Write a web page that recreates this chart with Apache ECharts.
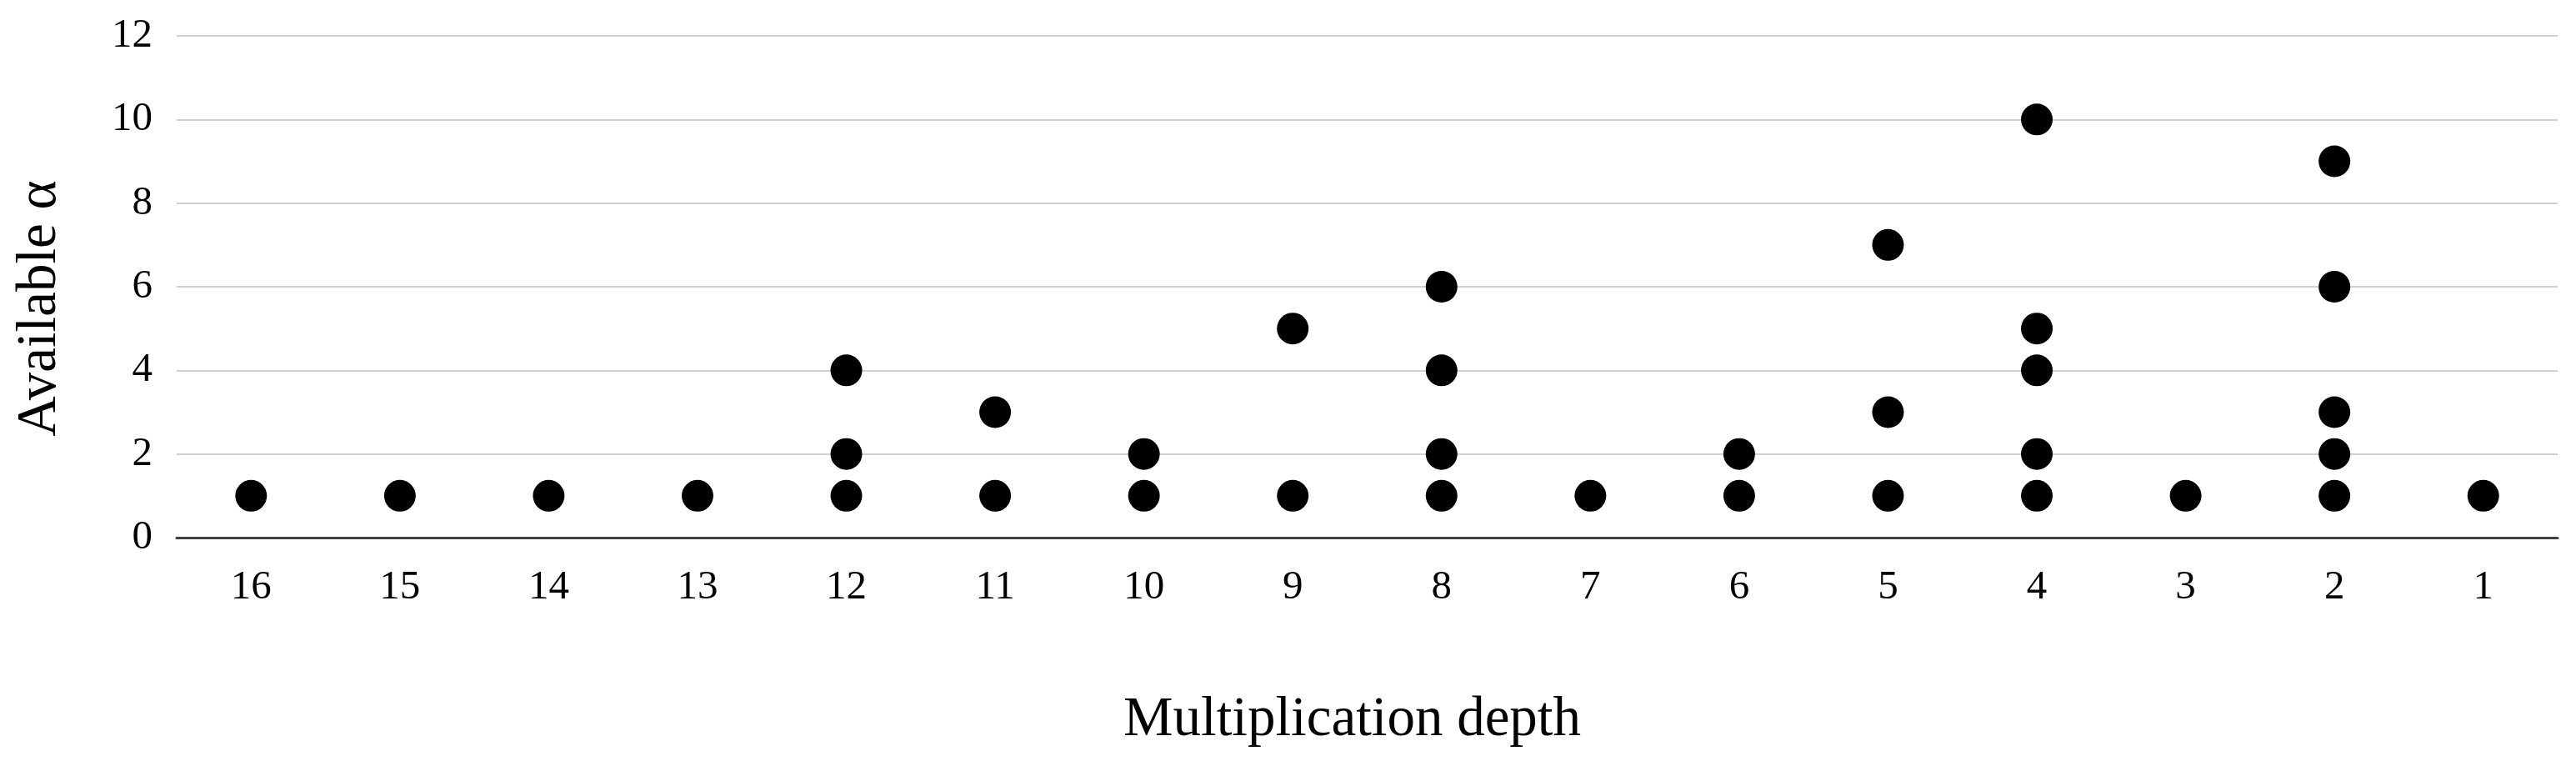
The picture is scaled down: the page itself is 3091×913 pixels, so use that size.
<!DOCTYPE html>
<html>
<head>
<meta charset="utf-8" />
<style>
  html, body { margin: 0; padding: 0; background: #ffffff; }
  #chart { width: 3091px; height: 913px; }
</style>
<script src="https://cdn.jsdelivr.net/npm/echarts@6/dist/echarts.min.js"></script>
</head>
<body>
<div id="chart"></div>
<script>
// Multiplication depth, left to right as in the figure.
const depths = ['16', '15', '14', '13', '12', '11', '10', '9', '8', '7', '6', '5', '4', '3', '2', '1'];

// Available alpha values at each depth (same order as depths).
const alphaAt16 = [1];
const alphaAt15 = [1];
const alphaAt14 = [1];
const alphaAt13 = [1];
const alphaAt12 = [1, 2, 4];
const alphaAt11 = [1, 3];
const alphaAt10 = [1, 2];
const alphaAt9 = [1, 5];
const alphaAt8 = [1, 2, 4, 6];
const alphaAt7 = [1];
const alphaAt6 = [1, 2];
const alphaAt5 = [1, 3, 7];
const alphaAt4 = [1, 2, 4, 5, 10];
const alphaAt3 = [1];
const alphaAt2 = [1, 2, 3, 6, 9];
const alphaAt1 = [1];

const alphaLists = [
  alphaAt16, alphaAt15, alphaAt14, alphaAt13, alphaAt12, alphaAt11, alphaAt10, alphaAt9,
  alphaAt8, alphaAt7, alphaAt6, alphaAt5, alphaAt4, alphaAt3, alphaAt2, alphaAt1
];

const yTicks = { min: 0, max: 12, interval: 2 };

// Flatten to [category, value] pairs for the scatter series.
const points = [];
depths.forEach((depth, i) => {
  alphaLists[i].forEach(value => points.push([depth, value]));
});

const fontFamily = '"Liberation Serif", "DejaVu Serif", serif';

const chart = echarts.init(document.getElementById('chart'), null, { renderer: 'canvas' });

chart.setOption({
  animation: false,
  backgroundColor: '#ffffff',
  grid: { left: 212, right: 22, top: 43, bottom: 268 },
  xAxis: {
    type: 'category',
    data: depths,
    boundaryGap: true,
    name: 'Multiplication depth',
    nameLocation: 'middle',
    nameGap: 186,
    // padding on the right nudges the title a little left of the plot centre, as in the original
    nameTextStyle: { fontFamily: fontFamily, fontSize: 67, color: '#000000', padding: [0, 36, 0, 0] },
    axisLine: { show: true, lineStyle: { color: '#404040', width: 3 } },
    axisTick: { show: false },
    axisLabel: { fontFamily: fontFamily, fontSize: 49, color: '#000000', margin: 36 },
    splitLine: { show: false }
  },
  yAxis: {
    type: 'value',
    min: yTicks.min,
    max: yTicks.max,
    interval: yTicks.interval,
    name: 'Available α',
    nameLocation: 'middle',
    nameGap: 130,
    // rotated text: right padding pushes it down below the plot centre
    nameTextStyle: { fontFamily: fontFamily, fontSize: 67, color: '#000000', padding: [0, 52, 0, 0] },
    axisLine: { show: false },
    axisTick: { show: false },
    axisLabel: { fontFamily: fontFamily, fontSize: 49, color: '#000000', margin: 29 },
    splitLine: { show: true, lineStyle: { color: '#d0d0d0', width: 2 } }
  },
  series: [{
    type: 'scatter',
    data: points,
    symbol: 'circle',
    symbolSize: 38,
    itemStyle: { color: '#000000', opacity: 1 }
  }]
});
</script>
</body>
</html>
